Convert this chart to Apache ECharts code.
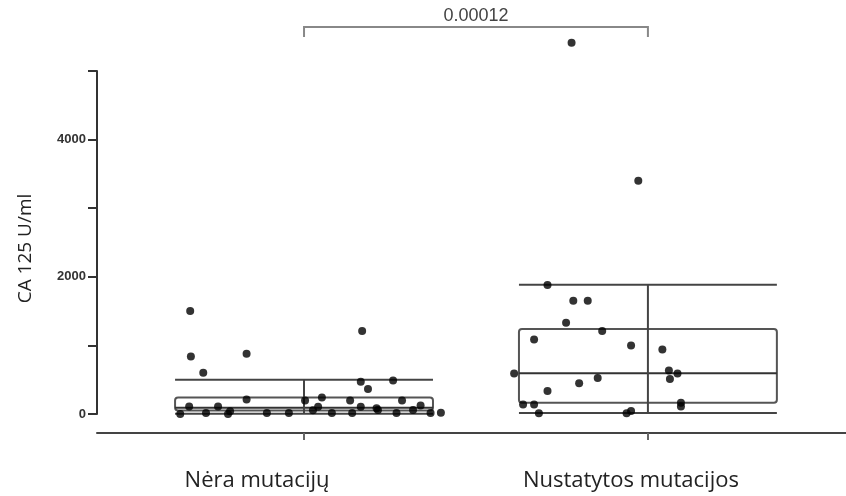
<!DOCTYPE html>
<html>
<head>
<meta charset="utf-8">
<script src="https://cdn.jsdelivr.net/npm/echarts@6/dist/echarts.min.js"></script>
<style>html,body{margin:0;padding:0;background:#fff;}#chart{width:846px;height:496px;}</style>
</head>
<body>
<div id="chart"></div>
<script>
// ---- data ----
const categories = ['Nėra mutacijų', 'Nustatytos mutacijos'];
const yTickLabels = ['0', '2000', '4000'];
// group 1 points: [jitter offset from category centre, CA 125 value]
const group1Jitter = [-0.331,-0.329,-0.293,-0.167,-0.167,0.169,0.165,0.186,0.259,0.003,0.052,0.134,0.285,0.339,-0.334,-0.25,-0.36,-0.285,-0.221,-0.215,-0.108,-0.044,0.026,0.041,0.081,0.14,0.165,0.211,0.215,0.269,0.317,0.368,0.398];
const group1Values = [1500,840,600,880,210,1210,470,365,490,195,240,195,195,125,110,110,0,15,0,40,15,15,55,105,15,15,105,85,60,15,60,15,20];
const group2Jitter = [-0.222,-0.028,-0.292,-0.217,-0.175,-0.238,-0.133,-0.331,-0.049,0.042,-0.389,0.061,0.086,0.064,-0.146,-0.2,-0.292,-0.363,-0.331,0.096,0.096,-0.317,-0.062,-0.049];
const group2Values = [5410,3400,1880,1650,1650,1330,1210,1085,1000,940,590,635,590,510,525,450,335,140,140,165,110,10,10,45];
// box stats: [min, q1, median, q3, max]
const group1Box = [5, 50, 90, 240, 500];
const group2Box = [15, 165, 595, 1240, 1885];
const pLabel = '0.00012';
const bracketLevel = 5640;
const bracketLeg = 5495;

// ---- build ----
const pts1 = group1Jitter.map((j, i) => [1 + j, group1Values[i]]);
const pts2 = group2Jitter.map((j, i) => [2 + j, group2Values[i]]);
const boxData = [[1].concat(group1Box), [2].concat(group2Box)];
const BOX_HALF = 0.375;

const chart = echarts.init(document.getElementById('chart'));
chart.setOption({
  animation: false,
  backgroundColor: '#ffffff',
  grid: { left: 97, right: 0, top: 71, bottom: 82, containLabel: false },
  xAxis: {
    type: 'value', min: 0.398, max: 2.576,
    offset: 19,
    splitLine: { show: false },
    axisLine: { onZero: false, lineStyle: { color: '#444', width: 2 } },
    axisTick: { show: true, customValues: [1, 2], length: 7, lineStyle: { color: '#666', width: 2 } },
    axisLabel: {
      customValues: [1, 2],
      margin: 37,
      formatter: v => (v === 1 ? '{a|' + categories[0] + '}' : '{b|' + categories[1] + '}'),
      rich: {
        a: { fontFamily: 'Open Sans', fontSize: 22, color: '#222', padding: [0, 94, 0, 0] },
        b: { fontFamily: 'Open Sans', fontSize: 22, color: '#222', padding: [0, 34, 0, 0] }
      }
    }
  },
  yAxis: {
    type: 'value', min: 0, max: 5000, interval: 1000,
    name: 'CA 125 U/ml', nameLocation: 'middle', nameGap: 62,
    nameTextStyle: { fontFamily: 'Open Sans', fontSize: 19, color: '#222', padding: [0, 12, 0, 0] },
    splitLine: { show: false },
    axisLine: { show: true, onZero: false, lineStyle: { color: '#333', width: 2 } },
    axisTick: { show: true, length: 9, lineStyle: { color: '#333', width: 2 } },
    axisLabel: {
      margin: 11, fontFamily: 'Liberation Sans', fontWeight: 'bold', fontSize: 13, color: '#333',
      formatter: v => (yTickLabels.indexOf(String(v)) >= 0 ? String(v) : '')
    }
  },
  series: [
    {
      type: 'custom', clip: false, z: 2,
      data: boxData,
      encode: { x: 0, y: [1, 2, 3, 4, 5] },
      renderItem: function (params, api) {
        const x = api.value(0);
        const hw = api.size([BOX_HALF, 0])[0];
        const c = api.coord([x, 0])[0];
        const y = k => api.coord([x, api.value(k)])[1];
        const yMin = y(1), yQ1 = y(2), yMed = y(3), yQ3 = y(4), yMax = y(5);
        const line = (x1, y1, x2, y2, col) => ({ type: 'line', shape: { x1, y1, x2, y2 }, style: { stroke: col, lineWidth: 2 } });
        return {
          type: 'group',
          children: [
            { type: 'rect', shape: { x: c - hw, y: yQ3, width: 2 * hw, height: yQ1 - yQ3, r: 3 }, style: { fill: 'none', stroke: '#555', lineWidth: 2 } },
            line(c - hw, yMax, c + hw, yMax, '#444'),
            line(c - hw, yMin, c + hw, yMin, '#444'),
            line(c - hw, yMed, c + hw, yMed, '#333'),
            line(c, yMax, c, yMin, '#444')
          ]
        };
      }
    },
    {
      type: 'scatter', clip: false, z: 3, symbolSize: 8,
      itemStyle: { color: '#000' },
      data: pts1.concat(pts2)
    },
    {
      type: 'custom', clip: false, z: 2,
      data: [[1, 2, bracketLevel, bracketLeg]],
      renderItem: function (params, api) {
        const p1 = api.coord([api.value(0), api.value(2)]);
        const p2 = api.coord([api.value(1), api.value(2)]);
        const leg = api.coord([api.value(0), api.value(3)])[1];
        return {
          type: 'group',
          children: [
            { type: 'polyline', shape: { points: [[p1[0], leg], p1, p2, [p2[0], leg]] }, style: { fill: 'none', stroke: '#888', lineWidth: 2 } },
            { type: 'text', x: (p1[0] + p2[0]) / 2, y: p1[1] - 2, style: { text: pLabel, fontFamily: 'Liberation Sans', fontSize: 18, fill: '#444', align: 'center', verticalAlign: 'bottom' } }
          ]
        };
      }
    }
  ]
});
</script>
</body>
</html>
